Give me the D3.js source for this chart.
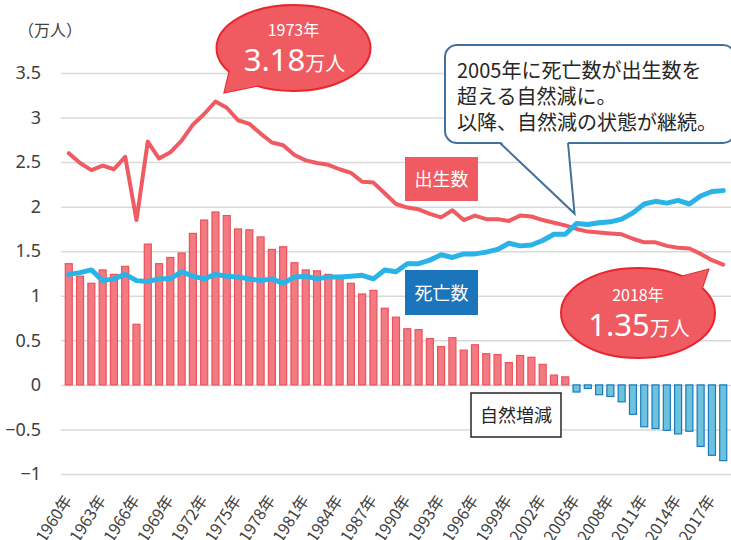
<!DOCTYPE html>
<html>
<head>
<meta charset="utf-8">
<script src="https://cdn.jsdelivr.net/npm/d3@7"></script>
<style>
  body { margin: 0; background: #fff; }
  svg { display: block; font-family: "Noto Sans CJK JP", "Noto Sans", sans-serif; }
</style>
</head>
<body>
<svg id="chart" width="731" height="540"></svg>
<script>
// data (万人)
const years = [1960, 1961, 1962, 1963, 1964, 1965, 1966, 1967, 1968, 1969,
  1970, 1971, 1972, 1973, 1974, 1975, 1976, 1977, 1978, 1979,
  1980, 1981, 1982, 1983, 1984, 1985, 1986, 1987, 1988, 1989,
  1990, 1991, 1992, 1993, 1994, 1995, 1996, 1997, 1998, 1999,
  2000, 2001, 2002, 2003, 2004, 2005, 2006, 2007, 2008, 2009,
  2010, 2011, 2012, 2013, 2014, 2015, 2016, 2017, 2018];

const births = [2.60, 2.49, 2.41, 2.46, 2.42, 2.56, 1.85, 2.73, 2.54, 2.61,
  2.74, 2.92, 3.04, 3.18, 3.11, 2.97, 2.93, 2.82, 2.72, 2.69,
  2.58, 2.52, 2.49, 2.47, 2.42, 2.38, 2.28, 2.27, 2.15, 2.03,
  1.99, 1.97, 1.92, 1.88, 1.96, 1.85, 1.90, 1.86, 1.86, 1.84,
  1.90, 1.89, 1.85, 1.82, 1.79, 1.75, 1.72, 1.71, 1.70, 1.69,
  1.64, 1.60, 1.60, 1.56, 1.54, 1.53, 1.47, 1.40, 1.35];

const deaths = [1.24, 1.26, 1.29, 1.17, 1.19, 1.24, 1.17, 1.16, 1.19, 1.19,
  1.27, 1.22, 1.19, 1.24, 1.22, 1.21, 1.19, 1.17, 1.19, 1.14,
  1.21, 1.22, 1.19, 1.21, 1.21, 1.22, 1.23, 1.19, 1.29, 1.27,
  1.36, 1.36, 1.40, 1.46, 1.43, 1.47, 1.47, 1.49, 1.52, 1.59,
  1.56, 1.57, 1.62, 1.69, 1.69, 1.81, 1.80, 1.82, 1.83, 1.86,
  1.93, 2.03, 2.06, 2.04, 2.07, 2.03, 2.12, 2.17, 2.18];

const naturalChange = [1.36, 1.22, 1.14, 1.29, 1.24, 1.33, 0.68, 1.58, 1.36, 1.43,
  1.48, 1.70, 1.85, 1.94, 1.90, 1.75, 1.74, 1.66, 1.52, 1.55,
  1.37, 1.29, 1.28, 1.24, 1.21, 1.14, 1.02, 1.06, 0.86, 0.76,
  0.63, 0.62, 0.52, 0.43, 0.53, 0.39, 0.45, 0.35, 0.34, 0.25,
  0.33, 0.31, 0.23, 0.11, 0.09, -0.08, -0.04, -0.11, -0.13, -0.19,
  -0.33, -0.47, -0.49, -0.51, -0.55, -0.52, -0.69, -0.79, -0.85];

const yTicks = [3.5, 3, 2.5, 2, 1.5, 1, 0.5, 0, -0.5, -1];
const xTickYears = [1960, 1963, 1966, 1969, 1972, 1975, 1978, 1981, 1984, 1987,
  1990, 1993, 1996, 1999, 2002, 2005, 2008, 2011, 2014, 2017];
const noteLines = ["2005年に死亡数が出生数を", "超える自然減に。", "以降、自然減の状態が継続。"];

const red = "#f05a61";
const blue = "#29b3e6";

const svg = d3.select("#chart");
const margin = { top: 73, right: 0, bottom: 66, left: 61 };
const width = 731, height = 540;

const x = d3.scaleBand()
  .domain(years)
  .range([margin.left, width - margin.right])
  .padding(0.38);
const cx = (yr) => x(yr) + x.bandwidth() / 2;

const y = d3.scaleLinear()
  .domain([-1, 3.5])
  .range([height - margin.bottom, margin.top]);

// gridlines + y labels
const yAxis = svg.append("g")
  .attr("transform", `translate(${margin.left},0)`)
  .call(d3.axisLeft(y).tickValues(yTicks).tickSize(-(width - margin.left)).tickFormat(d3.format("")));
yAxis.select(".domain").remove();
yAxis.selectAll(".tick line").attr("stroke", "#d9d9d9").attr("stroke-width", 1.5);
yAxis.selectAll(".tick text")
  .attr("x", -20)
  .style("font-size", "18px")
  .style("font-family", "\"Noto Sans\", sans-serif")
  .attr("fill", "#404040");

svg.append("text")
  .attr("x", 18).attr("y", 36)
  .style("font-size", "16px")
  .attr("fill", "#404040")
  .text("（万人）");

// x labels
svg.append("g")
  .selectAll("text")
  .data(xTickYears)
  .enter()
  .append("text")
  .attr("transform", (d) => `translate(${cx(d) + 4},${height - margin.bottom + 26}) rotate(-57)`)
  .attr("text-anchor", "end")
  .style("font-size", "16px")
  .attr("fill", "#404040")
  .text((d) => d + "年");

// bars
svg.append("g")
  .selectAll("rect")
  .data(years)
  .enter()
  .append("rect")
  .attr("x", (d) => x(d))
  .attr("width", x.bandwidth())
  .attr("y", (d, i) => y(Math.max(0, naturalChange[i])))
  .attr("height", (d, i) => Math.abs(y(naturalChange[i]) - y(0)))
  .attr("fill", (d, i) => naturalChange[i] >= 0 ? "#f47a82" : "#6cc4dc")
  .attr("stroke", (d, i) => naturalChange[i] >= 0 ? "#ea525c" : "#1c78be")
  .attr("stroke-width", 1.2);

// lines
const line = d3.line()
  .x((d) => cx(d.year))
  .y((d) => y(d.value));

svg.append("path")
  .datum(years.map((yr, i) => ({ year: yr, value: births[i] })))
  .attr("d", line)
  .attr("fill", "none")
  .attr("stroke", red)
  .attr("stroke-width", 4)
  .attr("stroke-linejoin", "round")
  .attr("stroke-linecap", "round");

svg.append("path")
  .datum(years.map((yr, i) => ({ year: yr, value: deaths[i] })))
  .attr("d", line)
  .attr("fill", "none")
  .attr("stroke", blue)
  .attr("stroke-width", 5)
  .attr("stroke-linejoin", "round")
  .attr("stroke-linecap", "round");

// series labels
function labelBox(bx, by, w, h, fill, stroke, textColor, label) {
  svg.append("rect")
    .attr("x", bx).attr("y", by).attr("width", w).attr("height", h)
    .attr("fill", fill)
    .attr("stroke", stroke || "none")
    .attr("stroke-width", 1.5);
  svg.append("text")
    .attr("x", bx + w / 2).attr("y", by + h / 2 + 7)
    .attr("text-anchor", "middle")
    .style("font-size", "18px")
    .attr("fill", textColor)
    .text(label);
}
labelBox(405, 157, 73, 44, red, null, "#fff", "出生数");
labelBox(405, 270, 73, 45, "#1b75bb", null, "#fff", "死亡数");
labelBox(471, 393, 90, 44, "#fff", "#262626", "#262626", "自然増減");

// speech bubbles
function bubble(ex, ey, rx, ry, tail, year, big) {
  const g = svg.append("g");
  const tailPath = `M${tail[0]}L${tail[1]}L${tail[2]}Z`;
  g.append("path").attr("d", tailPath).attr("fill", red).attr("stroke", "#e8262e").attr("stroke-width", 2);
  g.append("ellipse")
    .attr("cx", ex).attr("cy", ey).attr("rx", rx).attr("ry", ry)
    .attr("fill", red).attr("stroke", "#e8262e").attr("stroke-width", 2);
  g.append("path").attr("d", tailPath).attr("fill", red);
  g.append("text")
    .attr("x", ex).attr("y", ey - 12)
    .attr("text-anchor", "middle")
    .style("font-size", "16px")
    .attr("fill", "#fff")
    .text(year + "年");
  const t = g.append("text")
    .attr("x", ex + 1).attr("y", ey + 23)
    .attr("text-anchor", "middle")
    .attr("fill", "#fff");
  t.append("tspan").style("font-size", "31px").style("font-family", "\"Noto Sans\", sans-serif").text(big);
  t.append("tspan").style("font-size", "20px").text("万人");
}

// 1973 peak
const p73x = cx(1973), p73y = y(births[years.indexOf(1973)]);
bubble(293.5, 48, 77, 43,
  [[233, 57], [p73x + 9, p73y - 9], [265, 84]],
  1973, "3.18");

// 2018
const p18x = cx(2018), p18y = y(births[years.indexOf(2018)]);
bubble(638, 313, 77, 45,
  [[665, 281], [p18x - 15, p18y + 5], [698, 300]],
  2018, "1.35");

// note box
const tipX = cx(2005) - 2, tipY = y(deaths[years.indexOf(2005)]) - 10;
const note = svg.append("g");
note.append("rect")
  .attr("x", 445).attr("y", 45).attr("width", 290).attr("height", 98)
  .attr("rx", 12)
  .attr("fill", "#fff")
  .attr("stroke", "#41719c")
  .attr("stroke-width", 2);
note.append("path")
  .attr("d", `M500,141L${tipX},${tipY}L568,141Z`)
  .attr("fill", "#fff");
note.append("path")
  .attr("d", `M500,143L${tipX},${tipY}L568,143`)
  .attr("fill", "none")
  .attr("stroke", "#41719c")
  .attr("stroke-width", 2);
note.append("g")
  .selectAll("text")
  .data(noteLines)
  .enter()
  .append("text")
  .attr("x", 457)
  .attr("y", (d, i) => 78 + i * 26)
  .style("font-size", "20px")
  .attr("fill", "#262626")
  .text((d) => d);
</script>
</body>
</html>
